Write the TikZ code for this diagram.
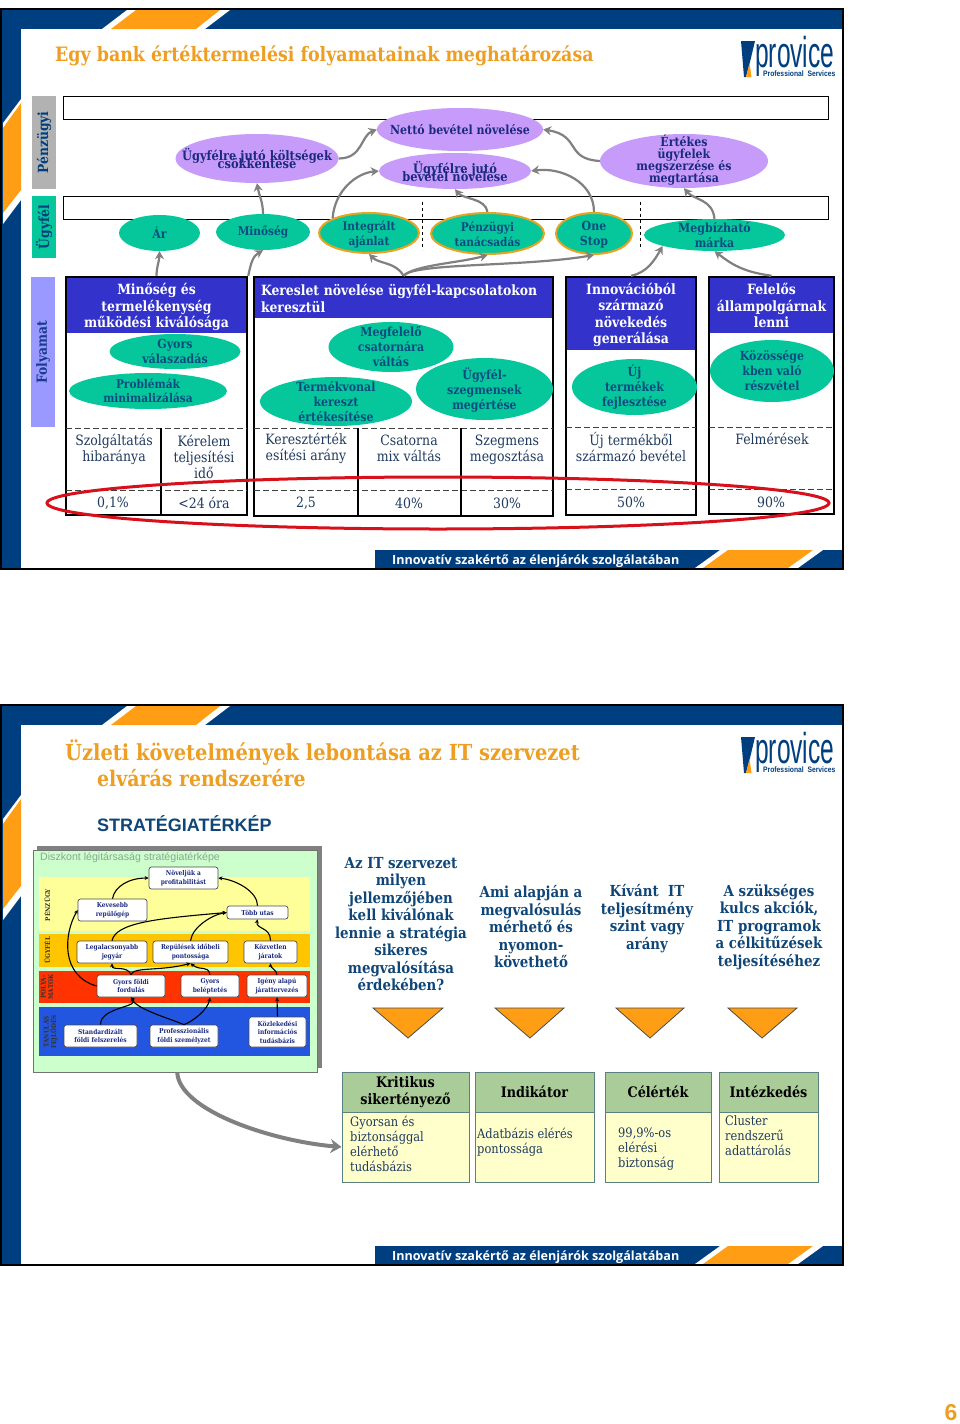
\documentclass[tikz,border=0pt]{standalone}
\usepackage{fontspec}
\usepackage{graphicx}
\usetikzlibrary{arrows.meta,shapes.geometric,calc}
\setmainfont{DejaVu Serif}
\newfontfamily\bk[FakeStretch=0.88]{DejaVu Serif Bold}
\newfontfamily\rg[FakeStretch=0.88]{DejaVu Serif}
\newfontfamily\sn{Liberation Sans}
\newfontfamily\opn{Open Sans}
\definecolor{navy}{HTML}{003F7F}
\definecolor{orng}{HTML}{FF9E14}
\definecolor{ttl}{HTML}{EE9E22}
\definecolor{lil}{HTML}{C69BFA}
\definecolor{grn}{HTML}{05C79B}
\definecolor{gold}{HTML}{E8A420}
\definecolor{hblue}{HTML}{3333CC}
\definecolor{gry}{HTML}{808080}
\definecolor{ink}{HTML}{1B2A80}
\definecolor{teal}{HTML}{0B4C80}
\definecolor{mtxt}{HTML}{1F3A5F}
\definecolor{red1}{HTML}{D8101B}
\definecolor{qblue}{HTML}{0F4677}
\definecolor{hgreen}{HTML}{AACC99}
\definecolor{bcream}{HTML}{FFFFCC}
\definecolor{bedge}{HTML}{5A8080}
\definecolor{bandy}{HTML}{FFFF99}
\definecolor{bando}{HTML}{FFC600}
\definecolor{bandr}{HTML}{FF3300}
\definecolor{bandb}{HTML}{2255E0}
\definecolor{peri}{HTML}{9999FF}
\definecolor{plab}{HTML}{1A3A8F}
\definecolor{ptxt}{HTML}{8CA598}
\definecolor{pfill}{HTML}{CCFFCC}
\newcommand\fs[2]{\fontsize{#1}{#2}\selectfont\lineskiplimit=-30pt\relax}
\tikzset{
 lane/.style={draw=black,line width=1pt,fill=white,inner sep=0},
 lanelab/.style={inner sep=0,rotate=90,font=\bk\fs{14}{14},text=navy},
 ovalbase/.style={ellipse,inner sep=0},
 lilacoval/.style={ovalbase,fill=lil},
 greenoval/.style={ovalbase,fill=grn},
 rimoval/.style={ovalbase,fill=grn,draw=gold,line width=2pt},
 inktext/.style={inner sep=0,align=center,text=ink,font=\bk\fs{12.5}{12}},
 tealtext/.style={inner sep=0,align=center,text=teal,font=\bk\fs{12.5}{15}},
 garrow/.style={draw=gry,line width=2.2pt,-{Stealth[length=8pt,width=9pt]}},
 blockframe/.style={draw=black,line width=2.5pt,inner sep=0,rectangle},
 hdr/.style={fill=hblue,inner sep=0},
 hdrtext/.style={inner sep=0,text=white,align=center,font=\bk\fs{14.1}{16.4}},
 metric/.style={inner sep=0,align=center,text=mtxt,font=\rg\fs{14.2}{16.2}},
 divider/.style={draw=black!75,line width=1pt,dash pattern=on 6pt off 3pt},
 smap/.style={draw=black!70,line width=.7pt,fill=white,rounded corners=2.5pt,inner sep=0,align=center,text=ink,font=\bk\fs{6.7}{8.4}},
 sarrow/.style={draw=black,line width=1.1pt,-{Stealth[length=4pt,width=4pt]}},
 bandlab/.style={inner sep=0,rotate=90,align=center,text=black!80,font=\bk\fs{6.5}{7.5}},
 qtext/.style={inner sep=0,align=center,text=qblue,font=\bk\fs{15.2}{17.5}},
 ksfhead/.style={draw=bedge,line width=1pt,fill=hgreen,inner sep=0,align=center,text=black,font=\bk\fs{14.5}{17.5}},
 ksfbody/.style={draw=bedge,line width=1pt,fill=bcream,inner sep=0},
 ksftext/.style={inner sep=0,align=left,anchor=west,text=mtxt,font=\rg\fs{13}{15}},
 triang/.style={draw=black!70,line width=.8pt,fill=orng},
}
% name, cx, cy, w, h, oval style, text style, text
\newcommand\ovl[8]{%
 \node[#6,minimum width=#4pt,minimum height=#5pt] (#1) at (#2,#3) {};
 \node[#7] (#1t) at (#2,#3) {#8};}
\newcommand\slideframe[1]{%
 \begin{scope}[yshift=-#1pt]
 \fill[navy] (1,9) rectangle (843,29);
 \fill[navy] (1,9) rectangle (21,569);
 \fill[navy] (375,550) rectangle (843,569);
 \fill[white] (102,29) -- (127,10) -- (230,10) -- (205,29) -- cycle;
 \fill[orng] (111,29) -- (136,10) -- (220,10) -- (196,29) -- cycle;
 \fill[white] (21,99) -- (3,123) -- (3,224) -- (21,200) -- cycle;
 \fill[orng] (21,103) -- (3,128) -- (3,213) -- (21,190) -- cycle;
 \fill[white] (695,568) -- (720,550) -- (823,550) -- (798,568) -- cycle;
 \fill[orng] (703,568) -- (728,550) -- (813,550) -- (788,568) -- cycle;
 \draw[black,line width=2pt] (1,9) rectangle (843,569);
 \node[inner sep=0,anchor=west,text=white,font=\opn\bfseries\fs{12.6}{13}] (foot#1) at (392,561.5) {Innovatív szakértő az élenjárók szolgálatában};
 \fill[navy] (741,41) -- (755,41) -- (750,62) -- (746,77) -- (744,77) -- cycle;
 \fill[orng] (749.5,63) -- (751.5,77) -- (746,77) -- cycle;
 \node[transform shape,xscale=.91,yscale=1.6,inner sep=0,anchor=west,text=navy,font=\sn\fs{27}{27}] (logo#1) at (755,56) {provice};
 \node[transform shape,xscale=.94,yscale=1.1,inner sep=0,anchor=west,text=navy,font=\sn\bfseries\fs{7.2}{8}] (logos#1) at (763,74) {Professional\ \ Services};
 \end{scope}}
\begin{document}
\begin{tikzpicture}[x=1pt,y=-1pt]
\useasboundingbox (0,0) rectangle (960,1424);
\fill[white] (0,0) rectangle (960,1424);
\slideframe{0}
\slideframe{696}
% ---------- slide 1
\node[inner sep=0,anchor=west,text=ttl,font=\bk\fs{19.8}{20}] (title1) at (55,56) {Egy bank értéktermelési folyamatainak meghatározása};
\node[fill=black!30,minimum width=24pt,minimum height=93pt,inner sep=0] (lab1) at (44,142.5) {};
\node[lanelab] (lab1t) at (44,142.5) {Pénzügyi};
\node[fill=grn,minimum width=24pt,minimum height=62pt,inner sep=0] (lab2) at (44,227) {};
\node[lanelab] (lab2t) at (44,227) {Ügyfél};
\node[fill=peri,minimum width=24pt,minimum height=150pt,inner sep=0] (lab3) at (43,352) {};
\node[lanelab,text=plab] (lab3t) at (43,352) {Folyamat};
\node[lane,minimum width=765pt,minimum height=23pt] (lanea) at (445.5,107.5) {};
\node[lane,minimum width=765pt,minimum height=23pt] (laneb) at (445.5,207.5) {};
\draw[black,line width=1pt,dashed] (422,202) -- (422,250);
\draw[black,line width=1pt,dashed] (640.5,202) -- (640.5,250);
% blocks
\node[hdr,minimum width=181pt,minimum height=56pt] (h1) at (156.5,305) {};
\node[hdrtext] (h1t) at (156.5,307) {Minőség és\\termelékenység\\működési kiválósága};
\node[hdr,minimum width=299pt,minimum height=41pt] (h2) at (403.5,297.5) {};
\node[hdrtext,text width=285pt,align=left] (h2t) at (403.5,298.5) {Kereslet növelése ügyfél-kapcsolatokon\\keresztül};
\node[hdr,minimum width=130pt,minimum height=73pt] (h3) at (631,313.5) {};
\node[hdrtext] (h3t) at (631,315) {Innovációból\\származó\\növekedés\\generálása};
\node[hdr,minimum width=125pt,minimum height=56pt] (h4) at (771.5,305) {};
\node[hdrtext] (h4t) at (771.5,305.5) {Felelős\\állampolgárnak\\lenni};
\node[blockframe,minimum width=181pt,minimum height=238pt] (bk1) at (156.5,396) {};
\node[blockframe,minimum width=299pt,minimum height=239pt] (bk2) at (403.5,396.5) {};
\node[blockframe,minimum width=130pt,minimum height=238pt] (bk3) at (631,396) {};
\node[blockframe,minimum width=125pt,minimum height=237pt] (bk4) at (771.5,395.5) {};
\foreach \a/\b/\y in {66/247/428,66/247/490,254/553/428,254/553/490,566/696/427,566/696/489,709/834/427,709/834/489}
  \draw[divider] (\a,\y) -- (\b,\y);
\draw[black,line width=2.5pt] (161,428) -- (161,515);
\draw[black,line width=2.5pt] (358,428) -- (358,516);
\draw[black,line width=2.5pt] (461,428) -- (461,516);
% metrics
\node[metric] (m1) at (114,449) {Szolgáltatás\\hibaránya};
\node[metric] (m2) at (204,457) {Kérelem\\teljesítési\\idő};
\node[metric] (m3) at (306,448) {Keresztérték\\esítési arány};
\node[metric] (m4) at (409,448) {Csatorna\\mix váltás};
\node[metric] (m5) at (507,449.5) {Szegmens\\megosztása};
\node[metric] (m6) at (631,447) {Új termékből\\származó bevétel};
\node[metric] (m7) at (772,439) {Felmérések};
\node[metric] (v1) at (113,503) {0,1\%};
\node[metric] (v2) at (204,503) {<24 óra};
\node[metric] (v3) at (306,503) {2,5};
\node[metric] (v4) at (409,503) {40\%};
\node[metric] (v5) at (507,503) {30\%};
\node[metric] (v6) at (631,502) {50\%};
\node[metric] (v7) at (771,502) {90\%};
% ovals
\ovl{koltseg}{257}{158.5}{163}{49}{lilacoval}{inktext,font=\bk\fs{13}{8}}{Ügyfélre jutó költségek\\csökkentése}
\ovl{netto}{460}{129.5}{166}{43}{lilacoval}{inktext}{Nettó bevétel növelése}
\ovl{bevetel}{455}{171}{152}{36}{lilacoval}{inktext,font=\bk\fs{13}{8}}{Ügyfélre jutó\\bevétel növelése}
\ovl{ertekes}{684}{161}{168}{54}{lilacoval}{inktext,yshift=1pt}{Értékes\\ügyfelek\\megszerzése és\\megtartása}
\ovl{ar}{159.5}{233}{81}{36}{greenoval}{tealtext}{Ár}
\ovl{minoseg}{263}{232}{94}{36}{greenoval}{tealtext,font=\bk\fs{12}{14}}{Minőség}
\ovl{integr}{369}{233}{100}{40}{rimoval}{tealtext,font=\bk\fs{12}{14.5},yshift=-1.5pt}{Integrált\\ajánlat}
\ovl{penz}{487.5}{233.5}{113}{41}{rimoval}{tealtext,font=\bk\fs{12}{15},yshift=-1pt}{Pénzügyi\\tanácsadás}
\ovl{one}{594}{233.5}{76}{41}{rimoval}{tealtext,font=\bk\fs{12.5}{15},yshift=-1.5pt}{One\\Stop}
\ovl{megb}{714.5}{235}{141}{32}{greenoval}{tealtext}{Megbízható\\márka}
\ovl{gyors}{175}{351.5}{131}{35}{greenoval}{tealtext}{Gyors\\válaszadás}
\ovl{probl}{148}{391}{158}{36}{greenoval}{tealtext,font=\bk\fs{12}{13.5}}{Problémák\\minimalizálása}
\ovl{megfel}{391}{347}{125}{50}{greenoval}{tealtext}{Megfelelő\\csatornára\\váltás}
\ovl{termek}{336}{401.5}{152}{49}{greenoval}{tealtext}{Termékvonal\\kereszt\\értékesítése}
\ovl{szegm}{484.5}{389}{137}{62}{greenoval}{tealtext,yshift=-.7pt}{Ügyfél-\\szegmensek\\megértése}
\ovl{ujterm}{634.5}{387}{125}{56}{greenoval}{tealtext}{Új\\termékek\\fejlesztése}
\ovl{kozos}{772}{371}{124}{62}{greenoval}{tealtext}{Közössége\\kben való\\részvétel}
% arrows slide 1
\draw[garrow] (bk1.north) .. controls +(0,-8) and +(0,8) .. (ar.south);
\draw[garrow] (bk1.north east) .. controls +(3,-14) and +(-10,6) .. (minoseg.south);
\draw[garrow] (minoseg.north) .. controls +(0,-12) and +(2,12) .. (koltseg.south);
\draw[garrow] (koltseg.east) .. controls +(24,0) and +(-16,6) .. (netto.west);
\draw[garrow] (integr.158) .. controls +(2,-28) and +(-22,2) .. (bevetel.west);
\draw[garrow] (ertekes.west) .. controls +(-35,-2) and +(38,6) .. (netto.east);
\draw[garrow] (one.north) .. controls +(0,-30) and +(30,-4) .. (bevetel.east);
\draw[garrow] (penz.north) .. controls +(-2,-14) and +(8,10) .. (bevetel.south);
\draw[garrow] (megb.north) .. controls +(-2,-20) and +(10,12) .. (ertekes.south);
\draw[garrow] (bk2.north) .. controls +(-8,-14) and +(10,10) .. (integr.south);
\draw[garrow] (bk2.north) .. controls +(12,-11) and +(-28,8) .. (penz.south);
\draw[garrow] (bk2.north) .. controls +(10,-13) and +(-70,12) .. (one.south);
\draw[garrow] (bk3.north) .. controls +(16,-3) and +(-8,14) .. (megb.192);
\draw[garrow] (bk4.north) .. controls +(-30,-4) and +(16,12) .. (megb.south);
\node[draw=red1,line width=3pt,ellipse,inner sep=0,minimum width=782pt,minimum height=52pt] (redring) at (438,503) {};
% ---------- slide 2
\node[inner sep=0,anchor=west,text=ttl,font=\bk\fs{22.1}{22}] (title2a) at (65,753) {Üzleti követelmények lebontása az IT szervezet};
\node[inner sep=0,anchor=west,text=ttl,font=\bk\fs{21.5}{22}] (title2b) at (97,778) {elvárás rendszerére};
\node[inner sep=0,anchor=west,text=qblue,font=\sn\bfseries\fs{18}{18}] (strat) at (97,823.5) {STRATÉGIATÉRKÉP};
% map panel
\fill[black!50] (37,846) rectangle (322,1068);
\node[draw=black!55,line width=1pt,fill=pfill,minimum width=283.5pt,minimum height=222pt,inner sep=0] (panel) at (175.25,961) {};
\fill[bandy] (39,877) rectangle (310,931);
\fill[bando] (39,934) rectangle (310,967);
\fill[bandr] (39,971) rectangle (310,1003);
\fill[bandb] (39,1007) rectangle (310,1056);
\node[inner sep=0,anchor=west,text=ptxt,font=\sn\fs{10.6}{11}] (ptitle) at (40,858) {Diszkont légitársaság stratégiatérképe};
\node[bandlab] (b1) at (47,905) {PÉNZÜGY};
\node[bandlab] (b2) at (47,950) {ÜGYFÉL};
\node[bandlab] (b3) at (47,987) {POLYA-\\MATOK};
\node[bandlab] (b4) at (50,1032) {TANULÁS\\FEJLŐDÉS};
\newcommand\mapbox[6]{\node[smap,minimum width=#4pt,minimum height=#5pt] (#1) at (#2,#3) {#6};}
\mapbox{nov}{183.5}{878}{69}{22}{Növeljük a\\profitabilitást}
\mapbox{kev}{112.5}{910}{69}{22}{Kevesebb\\repülőgép}
\mapbox{tobb}{257.5}{912.5}{61}{13}{Több utas}
\mapbox{leg}{112}{952}{70}{22}{Legalacsonyabb\\jegyár}
\mapbox{rep}{190.5}{952}{75}{22}{Repülések időbeli\\pontossága}
\mapbox{koz}{270.5}{952}{53}{22}{Közvetlen\\járatok}
\mapbox{gyf}{131}{986}{68}{22}{Gyors földi\\fordulás}
\mapbox{gyb}{210}{986}{58}{22}{Gyors\\beléptetés}
\mapbox{igeny}{277}{986}{60}{22}{Igény alapú\\járattervezés}
\mapbox{std}{100.5}{1036}{73}{22}{Standardizált\\földi felszerelés}
\mapbox{prof}{184}{1036}{68}{22}{Professzionális\\földi személyzet}
\mapbox{kozl}{277.5}{1032}{57}{30}{Közlekedési\\információs\\tudásbázis}
\draw[sarrow] (kev.north) .. controls +(2,-12) and +(-20,0) .. (nov.west);
\draw[sarrow] (tobb.north) .. controls +(0,-14) and +(18,2) .. (nov.east);
\draw[sarrow] (leg.north) .. controls +(4,-18) and +(-70,6) .. (tobb.west);
\draw[sarrow] (rep.north) .. controls +(2,-14) and +(-14,2) .. (tobb.west);
\draw[sarrow] (koz.north) .. controls +(0,-14) and +(-2,10) .. (tobb.south);
\draw[sarrow] (gyf.west) .. controls +(-36,-10) and +(-14,24) .. (kev.west);
\draw[sarrow] (gyf.north) .. controls +(-4,-10) and +(0,8) .. (leg.south);
\draw[sarrow] (gyf.north) .. controls +(2,-8) and +(-30,8) .. (rep.south);
\draw[sarrow] (gyb.north) .. controls +(-2,-10) and +(10,8) .. (rep.south);
\draw[sarrow] (igeny.north) .. controls +(0,-4) and +(0,4) .. (koz.south);
\draw[sarrow] (std.north) .. controls +(0,-18) and +(10,10) .. (gyf.south);
\draw[sarrow] (prof.north) .. controls +(-14,-6) and +(6,12) .. (gyf.south);
\draw[sarrow] (prof.north) .. controls +(10,-4) and +(-2,12) .. (gyb.south);
\draw[sarrow] (kozl.north) -- (igeny.south);
% questions
\node[qtext] (q1) at (401,924) {Az IT szervezet\\milyen\\jellemzőjében\\kell kiválónak\\lennie a stratégia\\sikeres\\megvalósítása\\érdekében?};
\node[qtext] (q2) at (531,927) {Ami alapján a\\megvalósulás\\mérhető és\\nyomon-\\követhető};
\node[qtext] (q3) at (647,918.5) {Kívánt\ \ IT\\teljesítmény\\szint vagy\\arány};
\node[qtext] (q4) at (769,927) {A szükséges\\kulcs akciók,\\IT programok\\a célkitűzések\\teljesítéséhez};
\draw[triang] (373,1008) -- (443,1008) -- (408,1038) -- cycle;
\draw[triang] (495,1008) -- (564,1008) -- (530,1038) -- cycle;
\draw[triang] (616,1008) -- (684,1008) -- (650,1038) -- cycle;
\draw[triang] (728,1008) -- (797,1008) -- (762,1038) -- cycle;
% KSF table
\node[ksfhead,minimum width=127pt,minimum height=40pt] (k1) at (405.5,1092) {Kritikus\\sikertényező};
\node[ksfhead,minimum width=119pt,minimum height=40pt] (k2) at (534.5,1092) {Indikátor};
\node[ksfhead,minimum width=106pt,minimum height=40pt] (k3) at (658,1092) {Célérték};
\node[ksfhead,minimum width=99pt,minimum height=40pt] (k4) at (768.5,1092) {Intézkedés};
\node[ksfbody,minimum width=127pt,minimum height=70pt] (c1) at (405.5,1147) {};
\node[ksfbody,minimum width=119pt,minimum height=70pt] (c2) at (534.5,1147) {};
\node[ksfbody,minimum width=106pt,minimum height=70pt] (c3) at (658,1147) {};
\node[ksfbody,minimum width=99pt,minimum height=70pt] (c4) at (768.5,1147) {};
\node[ksftext] (c1t) at (350,1143.5) {Gyorsan és\\biztonsággal\\elérhető\\tudásbázis};
\node[ksftext] (c2t) at (477,1142.5) {Adatbázis elérés\\pontossága};
\node[ksftext] (c3t) at (618,1149) {99,9\%-os\\elérési\\biztonság};
\node[ksftext] (c4t) at (725,1136) {Cluster\\rendszerű\\adattárolás};
\coordinate (gs) at ([xshift=2pt]panel.south);
\draw[draw=gry,line width=4pt,-{Stealth[length=11pt,width=14pt]}] (gs) .. controls +(2,38) and +(-70,-6) .. (c1.west);
% page number
\node[inner sep=0,text=ttl,font=\sn\bfseries\fs{23}{23}] (pageno) at (951,1412.5) {6};
\end{tikzpicture}
\end{document}
